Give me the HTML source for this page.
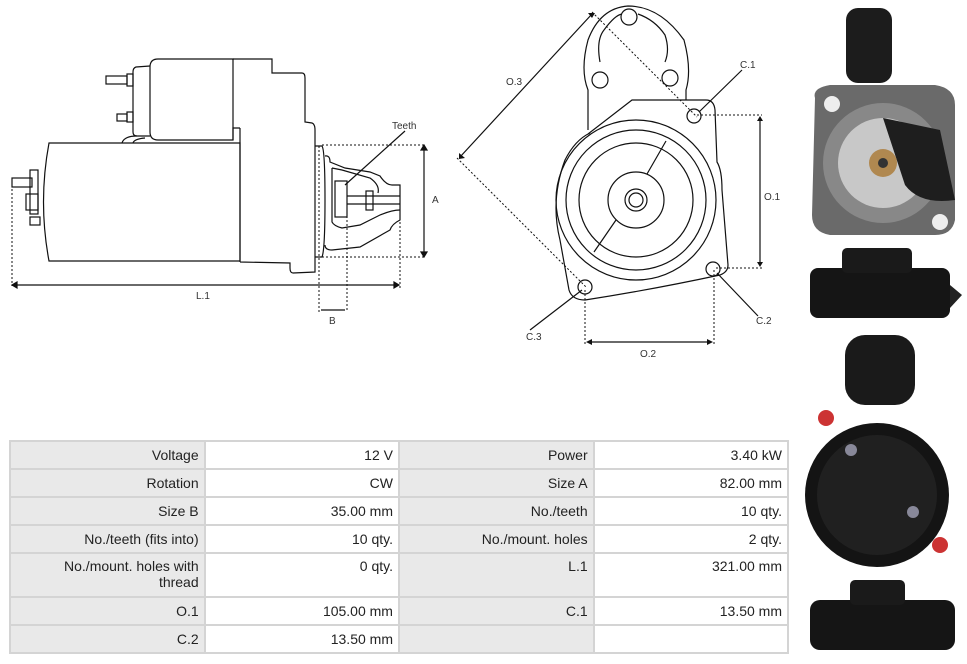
<!DOCTYPE html>
<html><head><meta charset="utf-8"><style>
body{margin:0;width:967px;height:664px;background:#fff;overflow:hidden;position:relative;font-family:"Liberation Sans Narrow","Liberation Sans",sans-serif}
svg{position:absolute;left:0;top:0}
table{position:absolute;left:9px;top:440px;border-collapse:collapse;width:780px}
td{border:2px solid #d4d4d4;text-align:right;padding:0 5px;font-size:14px;color:#222;height:26px;vertical-align:middle;width:184px}
td.l{background:#e9e9e9}
tr.t td{height:38px;vertical-align:top;padding-top:4px;line-height:16px}
</style></head><body>
<svg width="967" height="664" viewBox="0 0 967 664" fill="none" stroke="#111" stroke-width="1.2" font-family="Liberation Sans,sans-serif">
<path d="M49 143 L240 143 L240 261 L49 261 Q38 202 49 143Z"/>
<path d="M158 59 L233 59 L233 140 L158 140 Q150 140 150 132 L150 67 Q150 59 158 59Z"/>
<path d="M150 66 L136 67 Q133 68 133 72 L133 132 Q133 136 137 136 L150 136"/>
<rect x="127" y="74" width="6" height="12"/><rect x="106" y="76" width="21" height="8"/>
<rect x="127" y="112" width="6" height="10"/><rect x="117" y="114" width="10" height="7"/>
<path d="M137 136 Q124 136 122 143 M145 138 Q134 139 133 143"/>
<path d="M233 59 L272 59 L272 73 L302 73 Q305 73 305 78 L305 122 L312 123 Q315 124 315 130 L315 272 L293 273 Q290 273 290 268 L290 263 L240 262 M233 59 L233 60 M240 128 L233 128 L233 140 M240 128 L240 262"/>
<path d="M315 146 L322 146 Q325 150 325 200 Q325 250 322 257 L315 257"/>
<path d="M325 156 Q330 155 330 162 L345 168 L370 172 L380 176 Q386 185 392 185 L400 185 L400 220 Q392 224 390 230 L360 247 L332 250 Q325 250 325 245"/>
<path d="M332 168 L332 222 Q334 226 342 228 L360 225 L380 215 Q392 210 400 210 M332 168 L342 170 L370 178 Q380 185 378 193"/>
<rect x="335" y="181" width="12" height="36"/><path d="M347 196 L400 196 M347 204 L400 204"/>
<rect x="366" y="191" width="7" height="19"/>
<g stroke-dasharray="2,2" stroke-width="1">
<path d="M12 189 L12 286 M319 146 L319 312 M347 200 L347 312 M400 206 L400 290 M322 145 L426 145 M322 257 L426 257"/>
</g>
<path d="M424 148 L424 254 M14 285 L397 285 M321 310 L345 310"/>
<path d="M421 150 L424 145 L427 150Z M421 252 L424 257 L427 252Z M17 282 L12 285 L17 288Z M394 282 L399 285 L394 288Z" fill="#111"/>
<path d="M405 131 L345 185"/>
<rect x="12" y="178" width="20" height="9"/><rect x="30" y="170" width="8" height="44"/><rect x="26" y="194" width="12" height="16"/><rect x="30" y="217" width="10" height="8"/>
<g fill="#333" stroke="none" font-size="10">
<text x="392" y="129">Teeth</text><text x="432" y="203">A</text><text x="196" y="299">L.1</text><text x="329" y="324">B</text>
</g>
<path d="M588 130 L588 90 Q580 70 588 40 Q600 8 628 6 Q660 6 684 40 Q692 70 686 90 L686 100"/>
<path d="M600 62 Q596 40 604 30 Q615 15 622 14 M638 14 Q655 20 665 35 Q670 50 665 62"/>
<circle cx="629" cy="17" r="8"/><circle cx="600" cy="80" r="8"/><circle cx="670" cy="78" r="8"/>
<path d="M588 134 L632 100 L706 100 Q714 100 715 110 L717 162 Q722 170 722 190 L728 265 Q728 272 720 275 Q650 290 585 300 Q572 300 569 290 L560 240 Q550 200 565 160 Q575 140 590 133"/>
<circle cx="636" cy="200" r="80"/><circle cx="636" cy="200" r="70"/><circle cx="636" cy="200" r="57"/><circle cx="636" cy="200" r="28"/><circle cx="636" cy="200" r="11"/><circle cx="636" cy="200" r="7"/>
<path d="M666 141 L647 174 M616 220 L594 252"/>
<circle cx="694" cy="116" r="7"/><circle cx="713" cy="269" r="7"/><circle cx="585" cy="287" r="7"/>
<g stroke-dasharray="2,2" stroke-width="1">
<path d="M592 12 L697 117 M457 158 L586 287 M697 115 L762 115 M716 268 L762 268 M585 290 L585 346 M714 270 L714 346"/>
</g>
<path d="M592 14 L460 157 M760 118 L760 265 M588 342 L711 342 M742 70 L699 112 M758 316 L717 273 M530 330 L582 290"/>
<path d="M588 13 L595 13 L592 18Z M459 153 L459 159 L465 158Z M757 121 L760 116 L763 121Z M757 262 L760 267 L763 262Z M592 339 L586 342 L592 345Z M707 339 L713 342 L707 345Z" fill="#111" stroke="none"/>
<g fill="#333" stroke="none" font-size="10">
<text x="740" y="68">C.1</text><text x="506" y="85">O.3</text><text x="764" y="200">O.1</text><text x="756" y="324">C.2</text><text x="526" y="340">C.3</text><text x="640" y="357">O.2</text>
</g>
<g stroke="none">
<rect x="846" y="8" width="46" height="75" rx="12" fill="#1c1c1c"/>
<path d="M815 98 Q812 88 830 85 L935 85 Q955 88 955 105 L955 220 Q952 235 935 235 L830 235 Q812 232 812 215Z" fill="#6a6a6a"/>
<circle cx="883" cy="163" r="60" fill="#888"/><circle cx="883" cy="163" r="45" fill="#c8c8c8"/>
<path d="M883 118 L940 130 L955 200 Q920 205 905 185Z" fill="#1e1e1e"/>
<circle cx="883" cy="163" r="14" fill="#b08850"/><circle cx="883" cy="163" r="5" fill="#333"/>
<circle cx="832" cy="104" r="8" fill="#eee"/><circle cx="940" cy="222" r="8" fill="#eee"/>
<rect x="810" y="268" width="140" height="50" rx="8" fill="#151515"/><rect x="842" y="248" width="70" height="25" rx="5" fill="#1a1a1a"/><path d="M950 285 L962 295 L950 308Z" fill="#222"/>
<rect x="845" y="335" width="70" height="70" rx="20" fill="#1a1a1a"/>
<circle cx="877" cy="495" r="72" fill="#141414"/><circle cx="877" cy="495" r="60" fill="#202020"/>
<circle cx="826" cy="418" r="8" fill="#c33"/><circle cx="940" cy="545" r="8" fill="#c33"/>
<circle cx="851" cy="450" r="6" fill="#889"/><circle cx="913" cy="512" r="6" fill="#889"/>
<rect x="810" y="600" width="145" height="50" rx="10" fill="#151515"/><rect x="850" y="580" width="55" height="25" rx="5" fill="#1a1a1a"/>
</g>
</svg>
<table>
<tr><td class="l">Voltage</td><td>12 V</td><td class="l">Power</td><td>3.40 kW</td></tr>
<tr><td class="l">Rotation</td><td>CW</td><td class="l">Size A</td><td>82.00 mm</td></tr>
<tr><td class="l">Size B</td><td>35.00 mm</td><td class="l">No./teeth</td><td>10 qty.</td></tr>
<tr><td class="l">No./teeth (fits into)</td><td>10 qty.</td><td class="l">No./mount. holes</td><td>2 qty.</td></tr>
<tr class="t"><td class="l">No./mount. holes with<br>thread</td><td>0 qty.</td><td class="l">L.1</td><td>321.00 mm</td></tr>
<tr><td class="l">O.1</td><td>105.00 mm</td><td class="l">C.1</td><td>13.50 mm</td></tr>
<tr><td class="l">C.2</td><td>13.50 mm</td><td class="l"></td><td></td></tr>
</table>
</body></html>
